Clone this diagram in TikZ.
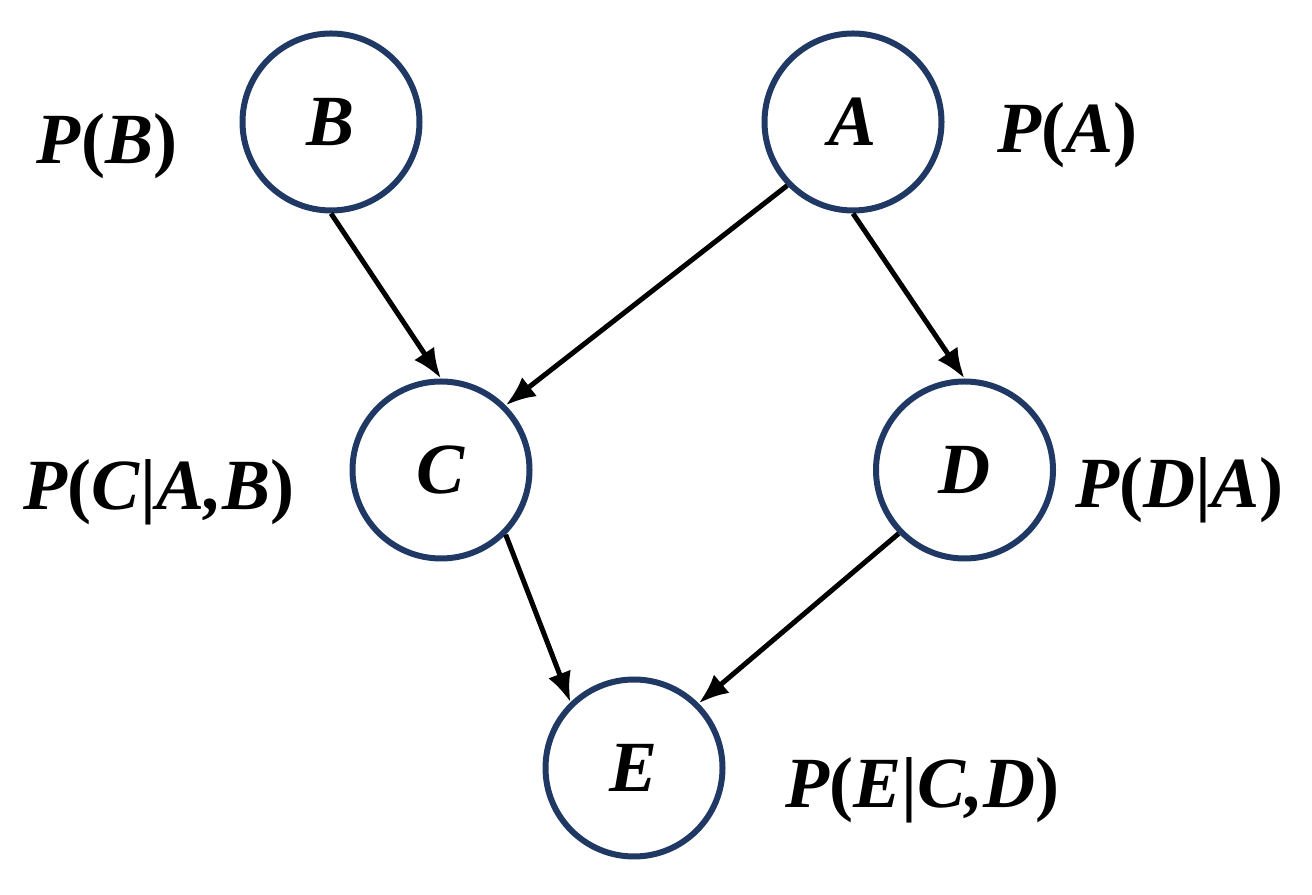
\documentclass[tikz,border=0pt]{standalone}
\usepackage{fontspec}
\setmainfont{Liberation Serif}
\usetikzlibrary{arrows.meta,shapes}
\definecolor{nodeblue}{RGB}{31,56,100}
\newcommand{\lp}{\textup{(}}
\newcommand{\rp}{\textup{)}}
\newcommand{\gv}{\textup{|}}
\tikzstyle{bigtext}=[font=\fontsize{41}{49}\selectfont\bfseries\itshape]
\tikzstyle{variablenode}=[bigtext,draw=nodeblue,circle,line width=0.12cm,minimum size=3.54cm,inner sep=0pt]
\tikzstyle{orientedarc}=[-{Latex[length=0.6cm,width=0.48cm]},line width=0.1cm]
\tikzstyle{probabilitylabel}=[bigtext,anchor=base,inner sep=0pt]

\begin{document}
\begin{tikzpicture}

\useasboundingbox (0cm,0cm) rectangle (26.24cm,17.9cm);

\node[variablenode] (B) at (6.62cm,15.46cm) {B};
\node[variablenode] (A) at (17.06cm,15.46cm) {A};
\node[variablenode] (C) at (8.82cm,8.5cm) {C};
\node[variablenode] (D) at (19.29cm,8.5cm) {D};
\node[variablenode] (E) at (12.68cm,2.54cm) {E};

\node[probabilitylabel] (PB) at (2.14cm,14.62cm) {P\lp B\rp};
\node[probabilitylabel] (PA) at (21.35cm,14.84cm) {P\lp A\rp};
\node[probabilitylabel] (PC) at (3.18cm,7.7cm) {P\lp C\gv A,B\rp};
\node[probabilitylabel] (PD) at (23.59cm,7.74cm) {P\lp D\gv A\rp};
\node[probabilitylabel] (PE) at (18.45cm,1.74cm) {P\lp E\gv C,D\rp};

\draw[orientedarc] (B.south) -- (C.north);
\draw[orientedarc] (A.224) -- (C.45);
\draw[orientedarc] (A.south) -- (D.north);
\draw[orientedarc] (C.-45) -- (E.134);
\draw[orientedarc] (D.224) -- (E.45);

\end{tikzpicture}
\end{document}
